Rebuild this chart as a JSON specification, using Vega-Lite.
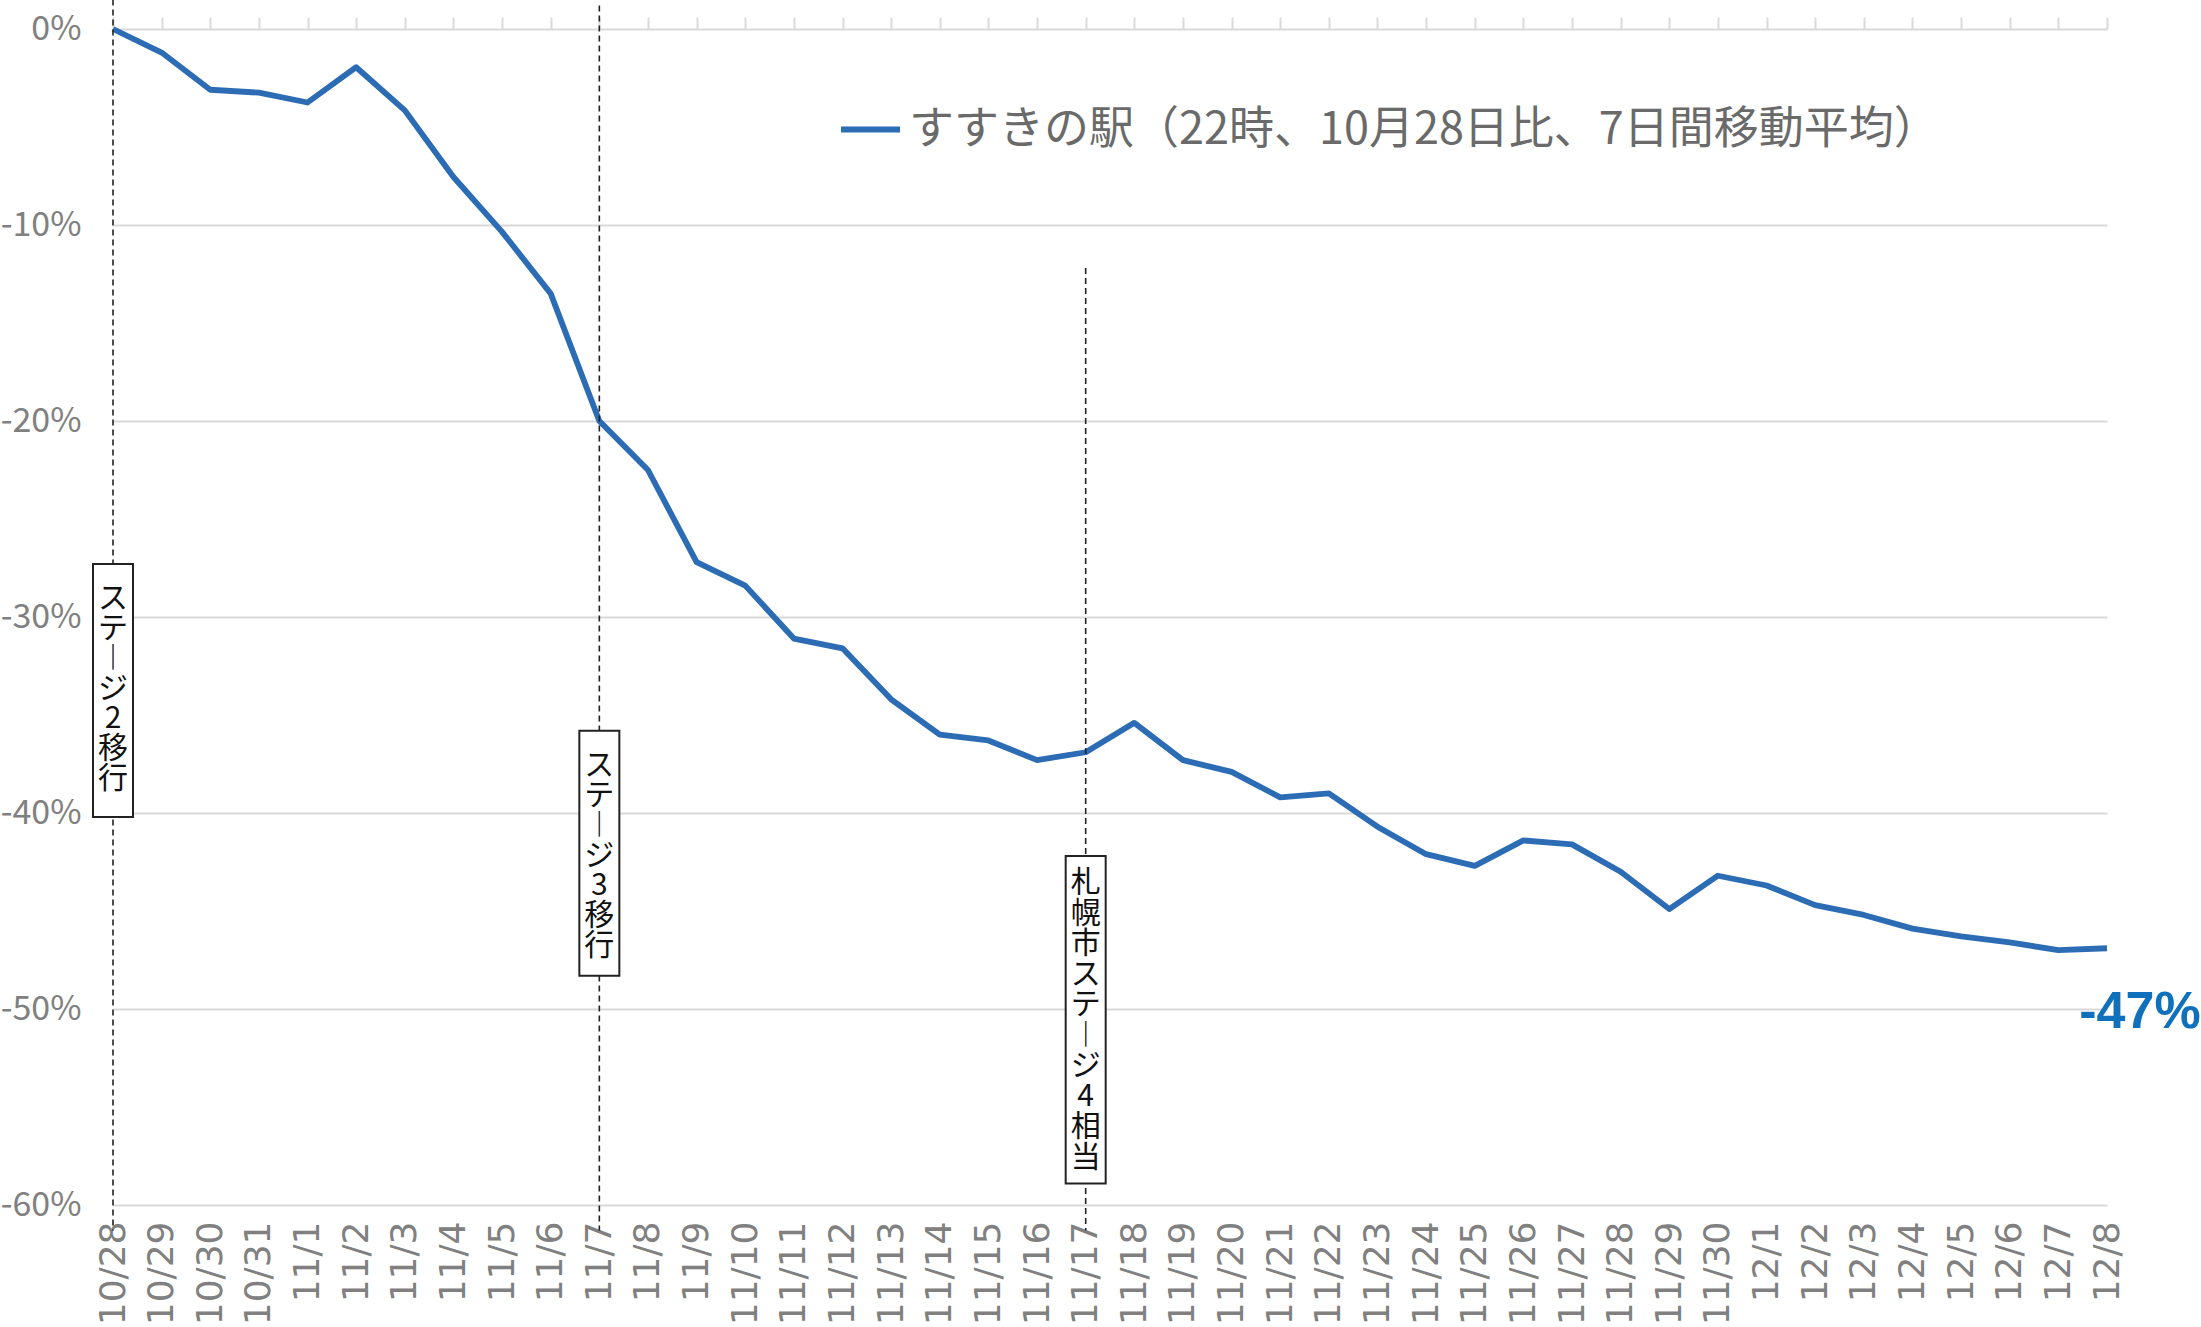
{
  "$schema": "https://vega.github.io/schema/vega-lite/v6.json",
  "width": 1994,
  "height": 1176,
  "autosize": {"type": "none"},
  "padding": {"left": 113, "top": 29, "right": 94, "bottom": 122},
  "background": "white",
  "config": {"view": {"stroke": null}},
  "datasets": {
    "series": [
      {"date": "10/28", "value": 0},
      {"date": "10/29", "value": -1.2},
      {"date": "10/30", "value": -3.1},
      {"date": "10/31", "value": -3.25},
      {"date": "11/1", "value": -3.75},
      {"date": "11/2", "value": -1.95},
      {"date": "11/3", "value": -4.15},
      {"date": "11/4", "value": -7.55},
      {"date": "11/5", "value": -10.35},
      {"date": "11/6", "value": -13.5},
      {"date": "11/7", "value": -20.0},
      {"date": "11/8", "value": -22.5},
      {"date": "11/9", "value": -27.2},
      {"date": "11/10", "value": -28.4},
      {"date": "11/11", "value": -31.1},
      {"date": "11/12", "value": -31.6},
      {"date": "11/13", "value": -34.2},
      {"date": "11/14", "value": -36.0},
      {"date": "11/15", "value": -36.3},
      {"date": "11/16", "value": -37.3},
      {"date": "11/17", "value": -36.9},
      {"date": "11/18", "value": -35.4},
      {"date": "11/19", "value": -37.3},
      {"date": "11/20", "value": -37.9},
      {"date": "11/21", "value": -39.2},
      {"date": "11/22", "value": -39.0},
      {"date": "11/23", "value": -40.7},
      {"date": "11/24", "value": -42.1},
      {"date": "11/25", "value": -42.7},
      {"date": "11/26", "value": -41.4},
      {"date": "11/27", "value": -41.6},
      {"date": "11/28", "value": -43.0},
      {"date": "11/29", "value": -44.9},
      {"date": "11/30", "value": -43.2},
      {"date": "12/1", "value": -43.7},
      {"date": "12/2", "value": -44.7},
      {"date": "12/3", "value": -45.2},
      {"date": "12/4", "value": -45.9},
      {"date": "12/5", "value": -46.3},
      {"date": "12/6", "value": -46.6},
      {"date": "12/7", "value": -47.0},
      {"date": "12/8", "value": -46.9}
    ],
    "events": [
      {"date": "10/28", "event": "ステージ2移行", "chars": ["ス", "テ", "︱", "ジ", "2", "移", "行"], "ruleTop": 1.5, "ruleBottom": -61.3, "boxTop": -27.3, "boxBottom": -40.2, "kind": "short"},
      {"date": "11/7", "event": "ステージ3移行", "chars": ["ス", "テ", "︱", "ジ", "3", "移", "行"], "ruleTop": 1.2, "ruleBottom": -61.3, "boxTop": -35.8, "boxBottom": -48.3, "kind": "short"},
      {"date": "11/17", "event": "札幌市ステージ4相当", "chars": ["札", "幌", "市", "ス", "テ", "︱", "ジ", "4", "相", "当"], "ruleTop": -12.2, "ruleBottom": -61.3, "boxTop": -42.2, "boxBottom": -58.9, "kind": "long"}
    ],
    "endlabel": [
      {"date": "12/8", "value": -46.9, "label": "-47%"}
    ]
  },
  "resolve": {"axis": {"x": "independent"}},
  "layer": [
    {
      "data": {"name": "series"},
      "mark": {"type": "line", "strokeWidth": 5.8, "strokeJoin": "round"},
      "encoding": {
        "x": {
          "field": "date", "type": "ordinal", "sort": null,
          "scale": {"type": "point", "padding": 0},
          "axis": {
            "orient": "bottom", "title": null, "labelAngle": 270, "labelFontSize": 36,
            "labelFont": "DejaVu Sans", "labelColor": "#808080", "ticks": false, "domain": false,
            "grid": false, "labelPadding": 16, "labelOverlap": false, "labelBound": false
          }
        },
        "y": {
          "field": "value", "type": "quantitative",
          "scale": {"domain": [-60, 0], "nice": false, "zero": false},
          "axis": {
            "title": null, "values": [0, -10, -20, -30, -40, -50, -60],
            "labelExpr": "datum.value + '%'", "labelFontSize": 34,
            "labelFont": "Liberation Sans Narrow, Noto Sans CJK JP", "labelColor": "#808080",
            "labelPadding": 32, "domain": false, "ticks": false,
            "grid": true, "gridColor": "#d9d9d9", "gridWidth": 2
          }
        },
        "color": {
          "datum": "すすきの駅（22時、10月28日比、7日間移動平均）",
          "scale": {"range": ["#2b6cb5"]},
          "legend": {
            "orient": "none", "legendX": 725, "legendY": 68, "title": null,
            "symbolType": "stroke", "symbolSize": 3481, "symbolStrokeWidth": 6,
            "labelFontSize": 45, "labelFont": "Noto Sans CJK JP", "labelColor": "#6a6a6a",
            "labelLimit": 0, "labelOffset": 6
          }
        }
      }
    },
    {
      "data": {"name": "events"},
      "mark": {"type": "rule", "strokeDash": [6, 4], "strokeWidth": 1.6, "color": "#222222"},
      "encoding": {
        "x": {
          "field": "date", "type": "ordinal", "sort": null,
          "axis": {
            "orient": "top", "title": null, "labels": false, "ticks": true, "tickSize": 12,
            "tickColor": "#d9d9d9", "tickWidth": 2, "domain": false, "grid": false
          }
        },
        "y": {"field": "ruleTop", "type": "quantitative"},
        "y2": {"field": "ruleBottom"}
      }
    },
    {
      "data": {"name": "events"},
      "mark": {"type": "bar", "size": 40, "fill": "white", "stroke": "#222222", "strokeWidth": 2},
      "encoding": {
        "x": {"field": "date", "type": "ordinal", "sort": null, "axis": null},
        "y": {"field": "boxTop", "type": "quantitative"},
        "y2": {"field": "boxBottom"}
      }
    },
    {
      "data": {"name": "events"},
      "transform": [{"filter": "datum.kind === 'short'"}],
      "mark": {"type": "text", "font": "Noto Sans CJK JP", "fontSize": 30, "lineHeight": 30, "color": "#111111", "align": "center", "baseline": "top", "dy": 20},
      "encoding": {
        "x": {"field": "date", "type": "ordinal", "sort": null, "axis": null},
        "y": {"field": "boxTop", "type": "quantitative"},
        "text": {"field": "chars"}
      }
    },
    {
      "data": {"name": "events"},
      "transform": [{"filter": "datum.kind === 'long'"}],
      "mark": {"type": "text", "font": "Noto Sans CJK JP", "fontSize": 30, "lineHeight": 30.5, "color": "#111111", "align": "center", "baseline": "top", "dy": 12},
      "encoding": {
        "x": {"field": "date", "type": "ordinal", "sort": null, "axis": null},
        "y": {"field": "boxTop", "type": "quantitative"},
        "text": {"field": "chars"}
      }
    },
    {
      "data": {"name": "endlabel"},
      "mark": {"type": "text", "font": "Liberation Sans Narrow, Liberation Sans", "fontWeight": "bold", "fontSize": 52, "color": "#1070bb", "align": "center", "baseline": "middle", "dx": 33, "dy": 64},
      "encoding": {
        "x": {"field": "date", "type": "ordinal", "sort": null, "axis": null},
        "y": {"field": "value", "type": "quantitative"},
        "text": {"field": "label"}
      }
    }
  ]
}
